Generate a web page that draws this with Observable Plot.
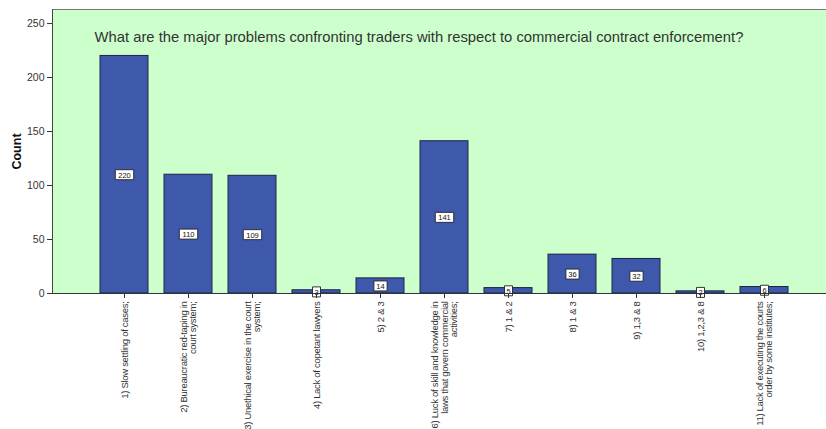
<!DOCTYPE html>
<html>
<head>
<meta charset="utf-8">
<script src="https://cdn.jsdelivr.net/npm/d3@7"></script>
<script src="https://cdn.jsdelivr.net/npm/@observablehq/plot@0.6"></script>
<style>
  html, body { margin: 0; padding: 0; background: #ffffff; }
  #chart { width: 826px; height: 429px; overflow: hidden; }
</style>
</head>
<body>
<div id="chart"></div>
<script>
const title = "What are the major problems confronting traders with respect to commercial contract enforcement?";
const categories = [
  "1) Slow settling of cases;",
  "2) Bureaucratic red-taping in\ncourt system;",
  "3) Unethical exercise in the court\nsystem;",
  "4) Lack of copetant lawyers",
  "5) 2 & 3",
  "6) Luck of skill and knowledge in\nlaws that govern commercial\nactivities;",
  "7) 1 & 2",
  "8) 1 & 3",
  "9) 1,3 & 8",
  "10) 1,2,3 & 8",
  "11) Lack of executing the courts\norder by some institutes;"
];
const counts = [220, 110, 109, 3, 14, 141, 5, 36, 32, 2, 6];
const yTicks = [0, 50, 100, 150, 200, 250];

const data = categories.map((c, i) => ({cat: c, count: counts[i]}));

const boxSymbol = {
  draw(ctx, size) {
    const w = Math.sqrt(size / Math.PI);
    ctx.rect(-w, -5, 2 * w, 10);
  }
};

const chart = Plot.plot({
  width: 826,
  height: 429,
  marginLeft: 52,
  marginRight: 0,
  marginTop: 9,
  marginBottom: 136,
  style: {fontFamily: "Arial, 'Liberation Sans', sans-serif", background: "#ffffff", color: "#333"},
  x: {domain: categories, range: [52, 836], paddingInner: 0.25, paddingOuter: 0.75, label: null},
  y: {domain: [0, 263], label: null},
  r: {type: "identity"},
  marks: [
    Plot.frame({fill: "#ccffcc", stroke: "#777", strokeWidth: 1}),
    Plot.barY(data, {x: "cat", y: "count", fill: "#3e58ac", stroke: "#1e2244", strokeWidth: 1}),
    Plot.dot(data, {x: "cat", y: d => d.count / 2, r: d => String(d.count).length * 2.6 + 1.4, symbol: boxSymbol, fill: "white", stroke: "#222", strokeWidth: 0.9}),
    Plot.text(data, {x: "cat", y: d => d.count / 2, text: d => String(d.count), fontSize: 7.5, fill: "#111", dy: 0.5}),
    Plot.text([title], {frameAnchor: "top-left", dx: 42, dy: 28, fontSize: 14.8, fill: "#333", textAnchor: "start", lineAnchor: "middle"}),
    Plot.axisY({ticks: yTicks, tickSize: 5, tickPadding: 3, fontSize: 10.5, stroke: "#333", label: "Count", labelAnchor: "center", labelArrow: "none", labelOffset: 40}),
    Plot.axisX({tickSize: 5, tickPadding: 3, tickRotate: -90, fontSize: 9.5, stroke: "#333", label: null, tickFormat: d => d}),
    Plot.ruleY([0], {stroke: "#333"}),
    Plot.frame({anchor: "left", stroke: "#444"})
  ]
});

document.getElementById("chart").appendChild(chart);
d3.select(chart).selectAll("[aria-label='y-axis label'] text").style("font-weight", "bold").style("font-size", "12.5px").style("fill", "#111");
d3.select(chart).selectAll("[aria-label='x-axis tick label'] text").style("letter-spacing", "-0.3px");
</script>
</body>
</html>
